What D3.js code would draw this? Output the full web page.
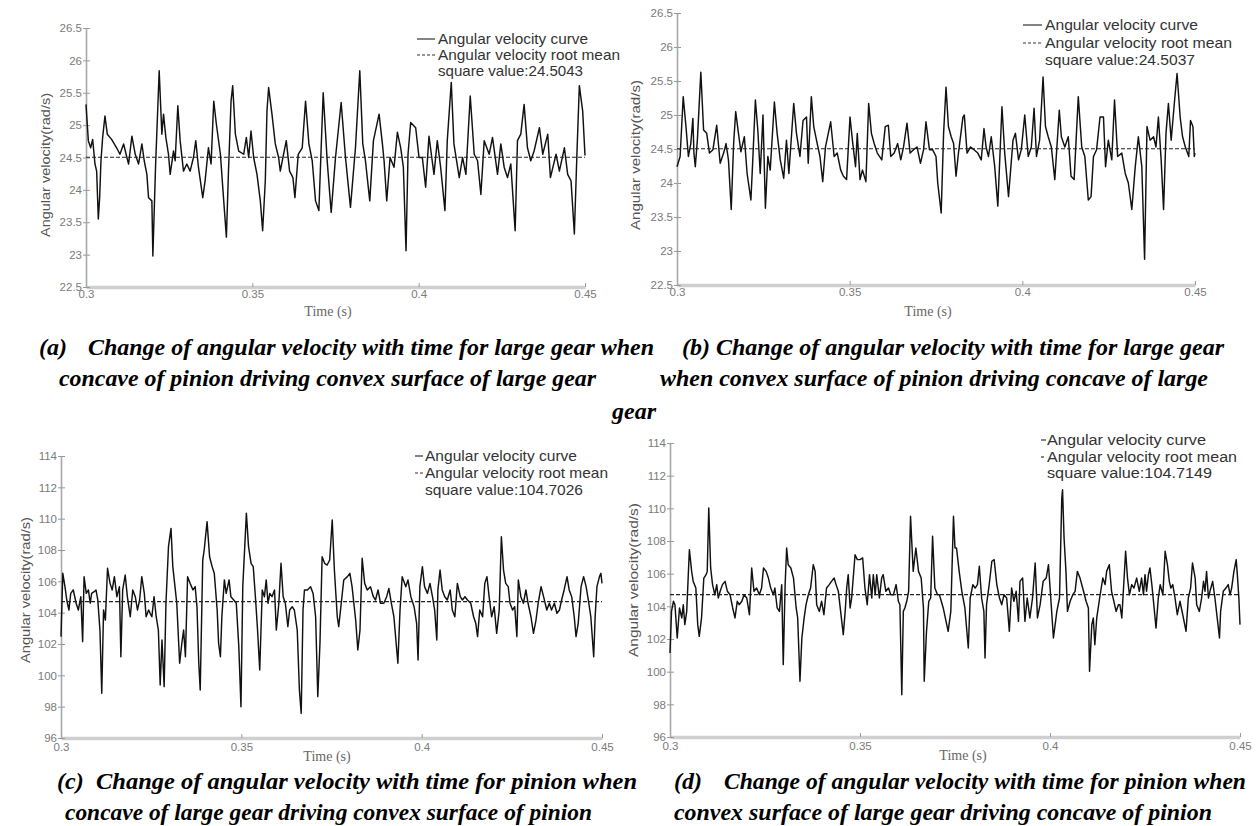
<!DOCTYPE html>
<html>
<head>
<meta charset="utf-8">
<script src="https://cdn.jsdelivr.net/npm/d3@7/dist/d3.min.js"></script>
<style>
  html, body { margin: 0; padding: 0; background: #fff; }
  svg { display: block; }
</style>
</head>
<body>
<svg id="fig" width="1260" height="826"></svg>
<script>
// ---------------- tick values and labels ----------------
const timeTicks = [0.3, 0.35, 0.4, 0.45];
const timeTickLabels = ["0.3", "0.35", "0.4", "0.45"];
const gearTicks = [22.5, 23, 23.5, 24, 24.5, 25, 25.5, 26, 26.5];
const gearTickLabels = ["22.5", "23", "23.5", "24", "24.5", "25", "25.5", "26", "26.5"];
const pinionTicks = [96, 98, 100, 102, 104, 106, 108, 110, 112, 114];
const pinionTickLabels = ["96", "98", "100", "102", "104", "106", "108", "110", "112", "114"];

// root mean square values of each record
const rmsValues = [24.5043, 24.5037, 104.7026, 104.7149];

// ---------------- (a) large gear, concave of pinion driving ----------------
const timeA = [
  0.3000,0.3007,0.3014,0.3020,0.3027,0.3032,0.3037,0.3041,0.3045,0.3050,
  0.3057,0.3064,0.3077,0.3092,0.3102,0.3113,0.3123,0.3128,0.3138,0.3148,
  0.3158,0.3168,0.3175,0.3183,0.3188,0.3198,0.3201,0.3209,0.3220,0.3228,
  0.3233,0.3240,0.3248,0.3253,0.3263,0.3268,0.3276,0.3283,0.3293,0.3303,
  0.3313,0.3323,0.3330,0.3338,0.3351,0.3358,0.3368,0.3376,0.3384,0.3392,
  0.3404,0.3414,0.3422,0.3428,0.3436,0.3441,0.3449,0.3459,0.3474,0.3482,
  0.3489,0.3496,0.3504,0.3514,0.3524,0.3531,0.3539,0.3544,0.3549,0.3559,
  0.3569,0.3579,0.3584,0.3602,0.3612,0.3622,0.3628,0.3638,0.3650,0.3660,
  0.3670,0.3680,0.3690,0.3700,0.3713,0.3725,0.3737,0.3750,0.3767,0.3780,
  0.3795,0.3810,0.3823,0.3832,0.3840,0.3853,0.3864,0.3881,0.3891,0.3896,
  0.3904,0.3914,0.3926,0.3936,0.3946,0.3954,0.3962,0.3968,0.3976,0.3991,
  0.4001,0.4011,0.4021,0.4031,0.4046,0.4056,0.4066,0.4079,0.4086,0.4098,
  0.4106,0.4122,0.4132,0.4142,0.4155,0.4167,0.4177,0.4187,0.4197,0.4212,
  0.4222,0.4237,0.4247,0.4257,0.4267,0.4277,0.4290,0.4297,0.4307,0.4317,
  0.4327,0.4337,0.4347,0.4363,0.4373,0.4388,0.4396,0.4413,0.4423,0.4438,
  0.4448,0.4458,0.4468,0.4476,0.4483,0.4493,0.4500
];
const speedA = [
  25.32,24.76,24.65,24.78,24.40,24.29,23.55,23.88,24.45,24.81,
  25.14,24.86,24.78,24.65,24.55,24.71,24.50,24.40,24.83,24.55,
  24.40,24.71,24.45,24.24,23.88,23.83,22.98,24.35,25.84,24.86,
  25.17,24.81,24.55,24.24,24.60,24.45,25.30,24.76,24.29,24.40,
  24.29,24.50,24.76,24.35,23.88,24.14,24.65,24.40,25.37,25.01,
  24.55,23.83,23.27,24.24,25.37,25.61,24.86,24.60,24.55,24.81,
  24.50,24.91,24.50,24.24,23.83,23.37,24.14,25.22,25.58,25.17,
  24.71,24.50,24.29,24.76,24.29,24.19,23.88,24.55,24.65,25.37,
  24.71,24.45,23.83,23.68,25.50,24.45,23.65,24.50,25.35,24.50,
  23.73,24.65,25.84,24.71,24.45,23.83,24.76,25.17,24.71,24.45,
  23.83,24.50,24.35,24.89,24.65,24.35,23.06,24.55,25.04,24.96,
  24.50,24.50,24.04,24.83,24.24,24.76,24.35,23.68,24.76,25.66,
  24.71,24.19,24.50,24.24,25.45,24.55,24.45,23.93,24.76,24.55,
  24.81,24.24,24.71,24.35,24.19,24.40,23.37,24.76,24.86,25.32,
  24.65,24.45,24.60,24.96,24.55,24.86,24.19,24.55,24.29,24.65,
  24.24,24.14,23.32,24.60,25.61,25.22,24.53
];

// ---------------- (b) large gear, convex of pinion driving ----------------
const timeB = [
  0.3000,0.3009,0.3018,0.3026,0.3033,0.3040,0.3046,0.3049,0.3053,0.3059,
  0.3069,0.3077,0.3086,0.3094,0.3104,0.3115,0.3125,0.3135,0.3142,0.3149,
  0.3157,0.3164,0.3170,0.3178,0.3185,0.3195,0.3203,0.3214,0.3219,0.3227,
  0.3234,0.3241,0.3249,0.3256,0.3263,0.3270,0.3282,0.3290,0.3299,0.3309,
  0.3317,0.3324,0.3338,0.3346,0.3356,0.3365,0.3375,0.3380,0.3389,0.3396,
  0.3406,0.3414,0.3422,0.3430,0.3445,0.3455,0.3464,0.3474,0.3482,0.3491,
  0.3501,0.3509,0.3517,0.3522,0.3530,0.3537,0.3547,0.3555,0.3563,0.3571,
  0.3580,0.3593,0.3603,0.3612,0.3619,0.3629,0.3639,0.3648,0.3656,0.3666,
  0.3675,0.3685,0.3695,0.3705,0.3714,0.3721,0.3731,0.3740,0.3750,0.3755,
  0.3765,0.3772,0.3779,0.3786,0.3794,0.3801,0.3808,0.3815,0.3828,0.3832,
  0.3840,0.3850,0.3860,0.3871,0.3881,0.3889,0.3895,0.3902,0.3910,0.3920,
  0.3929,0.3941,0.3949,0.3960,0.3973,0.3980,0.3989,0.3997,0.4007,0.4017,
  0.4026,0.4034,0.4041,0.4050,0.4060,0.4067,0.4075,0.4084,0.4094,0.4107,
  0.4113,0.4123,0.4133,0.4141,0.4150,0.4162,0.4172,0.4181,0.4191,0.4199,
  0.4206,0.4215,0.4225,0.4235,0.4241,0.4249,0.4259,0.4267,0.4276,0.4288,
  0.4298,0.4307,0.4317,0.4327,0.4336,0.4346,0.4354,0.4361,0.4370,0.4380,
  0.4387,0.4394,0.4402,0.4409,0.4416,0.4423,0.4431,0.4441,0.4448,0.4457,
  0.4464,0.4472,0.4482,0.4487,0.4494,0.4498,0.4500
];
const speedB = [
  24.24,24.39,25.27,24.83,24.39,24.58,24.95,24.44,24.24,24.63,
  25.63,24.78,24.73,24.44,24.49,24.85,24.29,24.44,24.58,24.34,
  23.61,24.58,25.05,24.73,24.46,24.68,24.14,23.75,24.29,25.22,
  24.78,24.14,25.00,23.63,24.39,24.19,25.19,24.73,24.34,24.07,
  24.63,24.14,25.17,24.73,24.39,24.92,24.97,24.29,25.27,24.83,
  24.58,24.39,24.02,24.53,24.90,24.39,24.44,24.19,24.10,24.05,
  24.97,24.58,24.24,24.73,24.05,24.19,24.02,25.17,24.73,24.58,
  24.44,24.34,24.83,24.85,24.39,24.44,24.58,24.34,24.53,24.88,
  24.44,24.49,24.53,24.29,24.49,24.90,24.49,24.49,24.39,24.00,
  23.56,24.73,25.41,24.83,24.68,24.58,24.10,24.44,24.97,25.00,
  24.44,24.53,24.49,24.44,24.34,24.80,24.53,24.39,24.68,24.24,
  23.66,25.12,24.44,23.80,24.63,24.73,24.34,24.49,25.00,24.39,
  24.53,25.10,24.39,24.63,25.56,24.83,24.68,24.53,24.05,25.07,
  24.68,24.53,24.68,24.10,24.05,25.27,24.53,24.39,23.75,23.80,
  24.39,24.49,24.97,24.97,24.24,24.63,24.34,25.22,24.39,24.44,
  24.14,24.00,23.61,24.24,24.68,24.24,22.88,24.83,24.63,24.68,
  24.53,24.97,24.34,23.61,24.73,25.17,24.63,25.22,25.61,24.97,
  24.68,24.53,24.39,24.92,24.83,24.39,24.44
];

// ---------------- (c) pinion, concave of large gear driving ----------------
const timeC = [
  0.3000,0.3005,0.3011,0.3016,0.3022,0.3027,0.3034,0.3042,0.3048,0.3055,
  0.3060,0.3064,0.3070,0.3076,0.3081,0.3085,0.3092,0.3097,0.3102,0.3108,
  0.3113,0.3118,0.3123,0.3129,0.3136,0.3142,0.3148,0.3155,0.3162,0.3166,
  0.3171,0.3178,0.3184,0.3192,0.3199,0.3206,0.3212,0.3218,0.3224,0.3231,
  0.3236,0.3243,0.3247,0.3252,0.3258,0.3264,0.3270,0.3275,0.3280,0.3286,
  0.3291,0.3298,0.3305,0.3310,0.3317,0.3321,0.3329,0.3335,0.3340,0.3345,
  0.3351,0.3358,0.3366,0.3372,0.3377,0.3382,0.3386,0.3393,0.3397,0.3405,
  0.3412,0.3419,0.3425,0.3433,0.3437,0.3442,0.3446,0.3453,0.3458,0.3466,
  0.3471,0.3479,0.3486,0.3493,0.3499,0.3504,0.3514,0.3520,0.3527,0.3533,
  0.3539,0.3545,0.3551,0.3558,0.3564,0.3569,0.3574,0.3579,0.3585,0.3592,
  0.3597,0.3604,0.3610,0.3616,0.3622,0.3629,0.3634,0.3641,0.3647,0.3655,
  0.3661,0.3666,0.3671,0.3675,0.3683,0.3692,0.3699,0.3706,0.3712,0.3718,
  0.3724,0.3731,0.3738,0.3745,0.3752,0.3758,0.3766,0.3770,0.3777,0.3784,
  0.3794,0.3801,0.3807,0.3817,0.3823,0.3829,0.3835,0.3842,0.3849,0.3858,
  0.3866,0.3872,0.3879,0.3886,0.3895,0.3903,0.3909,0.3916,0.3923,0.3934,
  0.3940,0.3946,0.3956,0.3962,0.3970,0.3979,0.3986,0.3990,0.3995,0.4002,
  0.4008,0.4016,0.4023,0.4030,0.4036,0.4042,0.4045,0.4051,0.4057,0.4064,
  0.4071,0.4079,0.4085,0.4092,0.4099,0.4107,0.4113,0.4120,0.4127,0.4136,
  0.4144,0.4150,0.4155,0.4161,0.4169,0.4175,0.4181,0.4187,0.4194,0.4201,
  0.4208,0.4215,0.4221,0.4227,0.4233,0.4240,0.4245,0.4252,0.4258,0.4264,
  0.4268,0.4275,0.4282,0.4289,0.4295,0.4303,0.4310,0.4317,0.4323,0.4331,
  0.4338,0.4347,0.4354,0.4360,0.4368,0.4375,0.4382,0.4388,0.4395,0.4403,
  0.4409,0.4416,0.4423,0.4428,0.4434,0.4442,0.4449,0.4456,0.4462,0.4469,
  0.4477,0.4481,0.4486,0.4493,0.4497,0.4500
];
const speedC = [
  102.47,106.51,105.66,104.81,104.17,105.23,105.45,104.60,104.17,105.02,
  102.15,106.30,105.23,105.45,104.60,105.23,105.34,105.45,104.81,102.89,
  98.85,104.17,103.53,106.83,105.87,105.45,106.30,105.02,105.66,101.19,
  105.45,106.40,105.02,103.74,105.45,105.02,104.17,104.81,106.30,105.23,
  103.74,104.17,103.96,103.74,105.02,103.74,102.89,99.38,102.26,99.28,
  104.60,108.21,109.38,106.94,105.45,104.60,100.77,102.04,102.89,101.19,
  106.30,105.87,105.45,105.66,104.38,100.77,99.06,107.36,108.00,109.81,
  107.57,106.94,106.51,104.17,102.04,101.19,103.74,106.09,105.23,106.09,
  105.02,104.81,104.60,101.83,98.00,105.66,110.34,108.21,107.15,106.94,
  105.02,102.89,100.34,105.45,105.02,106.09,104.60,105.23,105.02,105.45,
  102.89,104.60,107.15,105.02,104.60,103.11,104.17,104.38,104.17,102.89,
  99.06,97.57,104.17,105.45,105.45,105.66,105.23,103.74,98.64,102.04,
  107.57,107.15,107.04,107.36,109.91,106.72,103.74,103.11,104.60,106.09,
  106.30,106.51,105.66,103.53,101.62,102.89,107.47,105.87,105.45,105.66,
  105.02,104.81,105.45,104.60,104.60,105.02,105.55,104.60,103.74,100.77,
  104.17,106.30,105.66,106.09,105.02,104.38,103.32,100.98,105.66,106.94,
  105.66,105.23,105.87,105.02,104.17,102.26,105.45,106.72,105.45,105.02,
  104.81,105.45,104.17,103.74,105.87,105.02,104.81,105.02,104.81,104.60,
  103.74,103.32,102.47,104.17,103.74,105.87,106.30,105.02,103.74,104.38,
  102.68,104.17,108.85,106.72,105.87,105.66,104.60,104.17,104.38,102.47,
  106.09,105.02,104.60,105.45,104.60,103.74,102.68,103.53,104.60,105.66,
  105.02,104.17,104.60,104.17,104.60,103.96,104.17,104.81,105.45,106.30,
  105.45,105.02,103.74,102.47,103.32,105.66,106.30,105.66,104.81,103.74,
  101.19,103.74,105.66,106.30,106.51,105.87
];

// ---------------- (d) pinion, convex of large gear driving ----------------
const timeD = [
  0.3000,0.3004,0.3009,0.3013,0.3019,0.3025,0.3031,0.3035,0.3039,0.3044,
  0.3051,0.3057,0.3061,0.3068,0.3073,0.3077,0.3083,0.3089,0.3095,0.3098,
  0.3102,0.3107,0.3112,0.3118,0.3123,0.3127,0.3132,0.3138,0.3145,0.3151,
  0.3158,0.3165,0.3171,0.3177,0.3182,0.3189,0.3195,0.3202,0.3209,0.3215,
  0.3221,0.3228,0.3235,0.3241,0.3246,0.3253,0.3259,0.3265,0.3272,0.3276,
  0.3282,0.3288,0.3294,0.3298,0.3303,0.3307,0.3311,0.3318,0.3325,0.3332,
  0.3336,0.3342,0.3347,0.3353,0.3358,0.3364,0.3370,0.3377,0.3382,0.3386,
  0.3393,0.3399,0.3405,0.3412,0.3419,0.3425,0.3432,0.3437,0.3443,0.3449,
  0.3456,0.3461,0.3465,0.3469,0.3474,0.3478,0.3487,0.3493,0.3500,0.3507,
  0.3513,0.3519,0.3525,0.3531,0.3535,0.3540,0.3544,0.3551,0.3557,0.3561,
  0.3568,0.3575,0.3581,0.3588,0.3595,0.3601,0.3605,0.3610,0.3614,0.3618,
  0.3623,0.3628,0.3633,0.3640,0.3647,0.3654,0.3661,0.3667,0.3669,0.3675,
  0.3681,0.3686,0.3691,0.3697,0.3704,0.3709,0.3719,0.3732,0.3739,0.3746,
  0.3750,0.3754,0.3761,0.3768,0.3776,0.3785,0.3790,0.3797,0.3803,0.3809,
  0.3814,0.3820,0.3826,0.3829,0.3833,0.3840,0.3847,0.3853,0.3860,0.3867,
  0.3873,0.3879,0.3886,0.3893,0.3899,0.3905,0.3911,0.3917,0.3921,0.3928,
  0.3934,0.3940,0.3947,0.3954,0.3961,0.3967,0.3974,0.3982,0.3990,0.3996,
  0.4002,0.4009,0.4018,0.4025,0.4031,0.4033,0.4037,0.4042,0.4046,0.4053,
  0.4060,0.4066,0.4072,0.4079,0.4086,0.4095,0.4101,0.4104,0.4110,0.4114,
  0.4118,0.4123,0.4132,0.4139,0.4145,0.4149,0.4156,0.4162,0.4168,0.4174,
  0.4180,0.4184,0.4189,0.4193,0.4199,0.4204,0.4209,0.4215,0.4221,0.4228,
  0.4235,0.4241,0.4246,0.4250,0.4254,0.4259,0.4263,0.4268,0.4274,0.4279,
  0.4285,0.4290,0.4297,0.4303,0.4309,0.4314,0.4318,0.4323,0.4329,0.4335,
  0.4342,0.4351,0.4358,0.4364,0.4370,0.4375,0.4382,0.4386,0.4393,0.4399,
  0.4404,0.4408,0.4412,0.4417,0.4421,0.4428,0.4434,0.4440,0.4446,0.4449,
  0.4456,0.4463,0.4469,0.4474,0.4478,0.4484,0.4490,0.4493,0.4497,0.4500
];
const speedD = [
  101.14,103.69,104.31,104.10,102.06,103.90,103.29,104.10,102.88,103.69,
  107.47,106.14,105.53,105.12,102.88,102.16,103.29,105.73,105.94,106.14,
  110.02,106.35,105.33,104.71,105.33,104.51,104.92,105.33,105.53,104.92,
  104.71,103.90,103.29,104.31,104.10,104.31,104.71,104.51,103.49,106.35,
  104.92,105.12,104.71,105.12,106.35,106.14,105.73,105.12,104.71,105.12,
  103.90,103.69,105.33,100.43,105.33,107.57,106.55,106.35,105.73,103.90,
  103.29,99.41,102.06,103.29,104.10,104.71,105.12,106.55,106.14,104.10,
  103.69,104.31,103.49,105.12,105.33,105.53,105.73,105.33,104.92,103.69,
  102.27,103.69,105.12,105.94,103.90,104.51,107.16,106.86,106.86,106.96,
  105.12,104.10,105.94,104.51,105.94,104.71,105.94,104.51,105.73,105.94,
  104.92,105.12,104.71,104.71,105.33,104.31,104.10,98.59,103.69,103.90,
  104.31,104.92,109.51,106.14,107.57,106.14,105.73,103.90,99.41,102.47,
  104.31,104.51,108.29,105.12,104.71,104.71,103.90,102.47,103.69,109.51,
  107.57,107.57,106.14,104.92,103.90,101.45,104.51,105.33,105.12,105.33,
  106.45,104.51,103.69,100.84,104.10,105.33,106.76,106.86,105.33,104.51,
  104.10,104.71,104.51,102.47,105.12,104.31,104.92,103.08,105.53,105.73,
  103.08,104.51,103.29,104.51,106.65,103.29,104.10,105.53,105.73,106.55,
  104.51,102.06,103.69,104.51,110.63,111.14,108.18,106.14,103.69,104.31,
  104.71,104.92,106.14,105.73,105.12,104.31,103.90,100.02,102.88,103.29,
  101.65,103.29,104.71,105.73,105.33,106.14,106.55,104.92,104.31,103.69,
  104.10,104.10,103.29,104.92,107.37,105.73,104.71,105.33,105.12,105.73,
  104.92,105.73,104.71,105.94,104.92,105.94,106.35,105.33,103.90,102.67,
  104.51,105.33,104.71,107.37,106.55,105.53,105.12,105.33,104.51,103.49,
  104.31,103.29,102.47,104.51,105.12,106.65,105.73,104.10,103.69,104.51,
  105.53,104.92,106.14,104.51,104.92,105.53,104.51,103.29,102.06,103.69,
  104.92,105.12,105.33,104.71,105.12,106.14,106.86,105.94,104.51,102.88
];

// ---------------- texts ----------------
const legendCurve = "Angular velocity curve";
const legendRms = "Angular velocity root mean";
const rmsPrefix = "square value:";
const yTitle = "Angular velocity(rad/s)";
const xTitle = "Time (s)";

// ---------------- layout of the four panels ----------------
const panels = [
  { time: timeA, speed: speedA, rms: rmsValues[0], yDomain: [22.5, 26.5],
    yTicks: gearTicks, yLabels: gearTickLabels,
    left: 86, right: 585, top: 28, bottom: 287, xLabPad: 3,
    leg: { sx0: 417, sx1: 435, tx: 438, y: [44, 60, 76], w: [150, 182, 145], fs: 15, dash: "3,2" },
    yt: { x: 45, y: 165, w: 144 }, xt: { x: 328, y: 316 } },
  { time: timeB, speed: speedB, rms: rmsValues[1], yDomain: [22.5, 26.5],
    yTicks: gearTicks, yLabels: gearTickLabels,
    left: 677, right: 1195, top: 13, bottom: 285, xLabPad: 3,
    leg: { sx0: 1023, sx1: 1042, tx: 1045, y: [30, 48, 65], w: [153, 187, 150], fs: 15, dash: "3,2" },
    yt: { x: 635, y: 155, w: 150 }, xt: { x: 928, y: 316 } },
  { time: timeC, speed: speedC, rms: rmsValues[2], yDomain: [96, 114],
    yTicks: pinionTicks, yLabels: pinionTickLabels,
    left: 61, right: 602, top: 456, bottom: 738, xLabPad: 5,
    leg: { sx0: 415, sx1: 423, tx: 425, y: [461, 478, 495], w: [152, 183, 158], fs: 15, dash: "3,2" },
    yt: { x: 25, y: 590, w: 146 }, xt: { x: 327, y: 761 } },
  { time: timeD, speed: speedD, rms: rmsValues[3], yDomain: [96, 114],
    yTicks: pinionTicks, yLabels: pinionTickLabels,
    left: 670, right: 1240, top: 443, bottom: 737, xLabPad: 5,
    leg: { sx0: 1041, sx1: 1046, tx: 1047, y: [445, 462, 478], w: [159, 190, 165], fs: 15.5, dash: "3,2" },
    yt: { x: 633, y: 580, w: 154 }, xt: { x: 963, y: 760 } }
];

// figure captions: each entry is one line of text
const captions = [
  { text: "(a)", x: 39, y: 355 },
  { text: "Change of angular velocity with time for large gear when", x: 88, y: 355, w: 566 },
  { text: "concave of pinion driving convex surface of large gear", x: 59, y: 386, w: 537 },
  { text: "(b) Change of angular velocity with time for large gear", x: 682, y: 355, w: 542 },
  { text: "when convex surface of pinion driving concave of large", x: 660, y: 386, w: 548 },
  { text: "gear", x: 612, y: 419 },
  { text: "(c)", x: 57, y: 789 },
  { text: "Change of angular velocity with time for pinion when", x: 96, y: 789, w: 541 },
  { text: "concave of large gear driving convex surface of pinion", x: 65, y: 820, w: 527 },
  { text: "(d)", x: 674, y: 789 },
  { text: "Change of angular velocity with time for pinion when", x: 724, y: 789, w: 522 },
  { text: "convex surface of large gear driving concave of pinion", x: 674, y: 820, w: 538 }
];

// ---------------- drawing ----------------
const svg = d3.select("#fig");
svg.append("rect").attr("width", 1260).attr("height", 826).attr("fill", "#fff");

const SANS = "'Liberation Sans', Arial, sans-serif";
const SERIF = "'Liberation Serif', 'Times New Roman', serif";

panels.forEach(p => {
  const x = d3.scaleLinear().domain([0.3, 0.45]).range([p.left, p.right]);
  const y = d3.scaleLinear().domain(p.yDomain).range([p.bottom, p.top]);
  const g = svg.append("g");

  // bottom axis: light grey bar with inward ticks
  const xAxis = d3.axisBottom(x).tickValues(timeTicks)
    .tickFormat((d, i) => timeTickLabels[i]).tickSizeInner(-4).tickSizeOuter(0).tickPadding(p.xLabPad);
  const gx = g.append("g").attr("transform", `translate(0,${p.bottom})`).call(xAxis);
  gx.select(".domain").attr("stroke", "#cfcfcf").attr("stroke-width", 3.5);
  gx.selectAll(".tick line").attr("stroke", "#9a9a9a").attr("stroke-width", 1);
  gx.selectAll(".tick text").attr("fill", "#7a7a7a").attr("font-family", SANS).attr("font-size", 11.5);

  // left axis
  const yAxis = d3.axisLeft(y).tickValues(p.yTicks)
    .tickFormat((d, i) => p.yLabels[i]).tickSizeInner(-4).tickSizeOuter(0).tickPadding(4);
  const gy = g.append("g").attr("transform", `translate(${p.left},0)`).call(yAxis);
  gy.select(".domain").attr("stroke", "#a8a8a8").attr("stroke-width", 1.6);
  gy.selectAll(".tick line").attr("stroke", "#9a9a9a").attr("stroke-width", 1);
  gy.selectAll(".tick text").attr("fill", "#7a7a7a").attr("font-family", SANS).attr("font-size", 11.5);
  // short outer stubs so the ticks cross the axis line
  gy.selectAll(".tick").append("line").attr("x1", -3).attr("x2", 0).attr("stroke", "#9a9a9a");

  // angular velocity curve
  const pts = d3.zip(p.time, p.speed);
  const line = d3.line().x(d => x(d[0])).y(d => y(d[1]));
  g.append("path").datum(pts).attr("d", line)
    .attr("fill", "none").attr("stroke", "#111").attr("stroke-width", 1.45)
    .attr("stroke-linejoin", "round");

  // root mean square level
  g.append("line").attr("x1", x(0.3)).attr("x2", x(0.45))
    .attr("y1", y(p.rms)).attr("y2", y(p.rms))
    .attr("stroke", "#222").attr("stroke-width", 1.1).attr("stroke-dasharray", "4,2");

  // legend
  const L = p.leg;
  g.append("line").attr("x1", L.sx0).attr("x2", L.sx1).attr("y1", L.y[0] - 5).attr("y2", L.y[0] - 5)
    .attr("stroke", "#333").attr("stroke-width", 1.2);
  g.append("line").attr("x1", L.sx0).attr("x2", L.sx1).attr("y1", L.y[1] - 5).attr("y2", L.y[1] - 5)
    .attr("stroke", "#333").attr("stroke-width", 1.2).attr("stroke-dasharray", L.dash);
  const legTexts = [legendCurve, legendRms, rmsPrefix + p.rms.toFixed(4)];
  legTexts.forEach((t, i) => {
    g.append("text").attr("x", L.tx).attr("y", L.y[i]).text(t)
      .attr("font-family", SANS).attr("font-size", L.fs).attr("fill", "#333")
      .attr("textLength", L.w[i]).attr("lengthAdjust", "spacingAndGlyphs");
  });

  // axis titles
  g.append("text").attr("transform", `translate(${p.yt.x},${p.yt.y}) rotate(-90)`)
    .attr("text-anchor", "middle").attr("dominant-baseline", "central")
    .attr("font-family", SANS).attr("font-size", 13).attr("fill", "#555")
    .attr("textLength", p.yt.w).attr("lengthAdjust", "spacingAndGlyphs").text(yTitle);
  g.append("text").attr("x", p.xt.x).attr("y", p.xt.y).attr("text-anchor", "middle")
    .attr("font-family", SERIF).attr("font-size", 14).attr("fill", "#666").text(xTitle);
});

// captions
captions.forEach(c => {
  const t = svg.append("text").attr("x", c.x).attr("y", c.y).text(c.text)
    .attr("font-family", SERIF).attr("font-size", 24).attr("font-weight", "bold")
    .attr("font-style", "italic").attr("fill", "#000");
  if (c.w) t.attr("textLength", c.w).attr("lengthAdjust", "spacingAndGlyphs");
});
</script>
</body>
</html>
